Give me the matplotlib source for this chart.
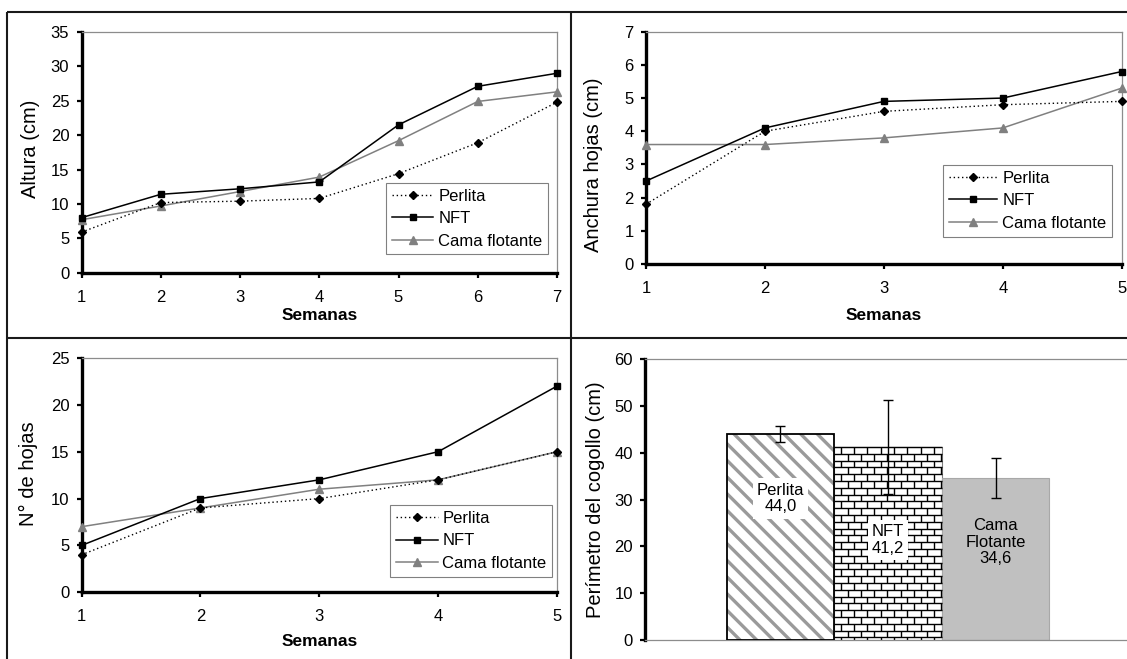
import numpy as np
import matplotlib
matplotlib.use('Agg')
import matplotlib.pyplot as plt
from matplotlib.lines import Line2D
from matplotlib.collections import LineCollection

plt.rcParams['font.family'] = ['Liberation Sans', 'DejaVu Sans']
plt.rcParams['hatch.linewidth'] = 2.4

# ---------------- data ----------------
semanas_altura = [1, 2, 3, 4, 5, 6, 7]
altura_perlita = [5.9, 10.2, 10.4, 10.8, 14.4, 18.9, 24.8]
altura_nft = [8.0, 11.4, 12.2, 13.2, 21.5, 27.1, 29.0]
altura_cama = [7.7, 9.7, 11.8, 13.9, 19.2, 24.9, 26.3]

semanas = [1, 2, 3, 4, 5]
anchura_perlita = [1.8, 4.0, 4.6, 4.8, 4.9]
anchura_nft = [2.5, 4.1, 4.9, 5.0, 5.8]
anchura_cama = [3.6, 3.6, 3.8, 4.1, 5.3]

hojas_perlita = [4, 9, 10, 12, 15]
hojas_nft = [5, 10, 12, 15, 22]
hojas_cama = [7, 9, 11, 12, 15]

sistemas = ['Perlita', 'NFT', 'Cama\nFlotante']
perimetro = [44.0, 41.2, 34.6]
perimetro_err = [1.8, 10.1, 4.3]

series_names = ['Perlita', 'NFT', 'Cama flotante']

# ---------------- layout ----------------
W, H = 1127, 659
fig = plt.figure(figsize=(W / 100, H / 100), dpi=100)


def rect(l, r, t, b):
    return [l / W, 1 - b / H, (r - l) / W, (b - t) / H]


def fx(px):
    return px / W


def fy(py):
    return 1 - py / H


ax1 = fig.add_axes(rect(81.5, 557, 32, 272.7))
ax2 = fig.add_axes(rect(646, 1121.7, 31.7, 264))
ax3 = fig.add_axes(rect(81.5, 557, 358, 592.3))
ax4 = fig.add_axes(rect(645, 1131, 359, 640))

GRAY_SPINE = '#8c8c8c'


def style_axes(ax):
    for s in ['top', 'right']:
        ax.spines[s].set_color(GRAY_SPINE)
        ax.spines[s].set_linewidth(0.9)
    for s in ['left', 'bottom']:
        ax.spines[s].set_color('black')
        ax.spines[s].set_linewidth(2.4)
    ax.tick_params(axis='both', direction='out', length=3.8, width=1.6,
                   labelsize=12, color='black')
    ax.tick_params(axis='y', pad=5)
    ax.tick_params(axis='x', pad=8.5)


def plot_lines(ax, x, p, n, c):
    ax.plot(x, c, '-', color='#808080', lw=1.1, marker='^', ms=6,
            clip_on=False, label=series_names[2], zorder=3)
    ax.plot(x, p, linestyle=(0, (1, 2)), color='black', lw=1.0, marker='D',
            ms=4.5, clip_on=False, label=series_names[0], zorder=4)
    ax.plot(x, n, '-', color='black', lw=1.1, marker='s', ms=5,
            clip_on=False, label=series_names[1], zorder=5)


def add_legend(ax, x, y, borderpad=0.35, handlelength=2.5):
    h, l = ax.get_legend_handles_labels()
    order = [l.index(s) for s in series_names]
    leg = ax.legend([h[i] for i in order], [l[i] for i in order],
                    loc='upper left', bbox_to_anchor=(fx(x), fy(y)),
                    bbox_transform=fig.transFigure, borderaxespad=0,
                    fontsize=12, frameon=True, fancybox=False,
                    edgecolor='#808080', framealpha=1,
                    handlelength=handlelength, handletextpad=0.3,
                    borderpad=borderpad, labelspacing=0.45)
    leg.get_frame().set_linewidth(0.8)
    return leg


def set_labels(ax, ylabel, ycx, ycy, xcx=None, xcy=None):
    ax.set_ylabel(ylabel, fontsize=14.5, va='center')
    ax.yaxis.set_label_coords(fx(ycx), fy(ycy), transform=fig.transFigure)
    if xcx is not None:
        ax.set_xlabel('Semanas', fontsize=12.5, fontweight='bold', va='center')
        ax.xaxis.set_label_coords(fx(xcx), fy(xcy), transform=fig.transFigure)


# Panel 1: Altura
plot_lines(ax1, semanas_altura, altura_perlita, altura_nft, altura_cama)
ax1.set_xlim(1, 7)
ax1.set_ylim(0, 35)
ax1.set_xticks(semanas_altura)
ax1.set_yticks(np.arange(0, 36, 5))
style_axes(ax1)
set_labels(ax1, 'Altura (cm)', 31, 149, 319.5, 315)
add_legend(ax1, 386, 182.7)

# Panel 2: Anchura hojas
plot_lines(ax2, semanas, anchura_perlita, anchura_nft, anchura_cama)
ax2.set_xlim(1, 5)
ax2.set_ylim(0, 7)
ax2.set_xticks(semanas)
ax2.set_yticks(np.arange(0, 8, 1))
style_axes(ax2)
set_labels(ax2, 'Anchura hojas (cm)', 594, 164.7, 884, 315)
add_legend(ax2, 943, 165, handlelength=2.9)

# Panel 3: Nº de hojas
plot_lines(ax3, semanas, hojas_perlita, hojas_nft, hojas_cama)
ax3.set_xlim(1, 5)
ax3.set_ylim(0, 25)
ax3.set_xticks(semanas)
ax3.set_yticks(np.arange(0, 26, 5))
style_axes(ax3)
set_labels(ax3, 'N° de hojas', 28, 474, 320, 641.7)
add_legend(ax3, 390, 505)

# Panel 4: Perímetro del cogollo (bars)
xpos = np.arange(len(perimetro))
bars = ax4.bar(xpos, perimetro, width=1.0, zorder=2)
ax4.set_xlim(-1.26, 3.26)
ax4.set_ylim(0, 60)
ax4.set_yticks(np.arange(0, 61, 10))
ax4.set_xticks([])
style_axes(ax4)
ax4.spines['bottom'].set_color(GRAY_SPINE)
ax4.spines['bottom'].set_linewidth(0.9)
ax4.spines['right'].set_visible(False)

# Perlita: gray diagonal stripes with black outline
bars[0].set_facecolor('white')
bars[0].set_edgecolor('#9a9a9a')
bars[0].set_hatch('\\\\')
bars[0].set_linewidth(0)
ax4.bar(xpos[0], perimetro[0], width=1.0, fill=False, edgecolor='black',
        linewidth=1.3, zorder=3)

# NFT: brick pattern
bars[1].set_facecolor('white')
bars[1].set_edgecolor('#808080')
bars[1].set_linewidth(0.8)

# Cama flotante: solid gray
bars[2].set_facecolor('#c0c0c0')
bars[2].set_edgecolor('#a8a8a8')
bars[2].set_linewidth(0.8)


def brick_fill(ax, patch, row_px=6.8, brick_px=13.3):
    (x0, y0), (x1, y1) = ax.transData.transform(
        [(patch.get_x(), patch.get_y()),
         (patch.get_x() + patch.get_width(), patch.get_y() + patch.get_height())])
    segs = []
    ytop = y1
    i = 0
    while ytop > y0:
        ybot = ytop - row_px
        segs.append([(x0, ytop), (x1, ytop)])
        off = (i % 2) * brick_px / 2
        xx = x0 + off + brick_px / 2
        while xx < x1:
            segs.append([(xx, ybot), (xx, ytop)])
            xx += brick_px
        ytop = ybot
        i += 1
    inv = ax.transData.inverted()
    segs_d = [inv.transform(np.array(s)) for s in segs]
    lc = LineCollection(segs_d, colors='black', linewidths=1.0, zorder=2.5)
    lc.set_clip_path(patch)
    ax.add_collection(lc)


brick_fill(ax4, bars[1])

ax4.errorbar(xpos, perimetro, yerr=perimetro_err, fmt='none', ecolor='black',
             elinewidth=1.0, capsize=3.5, capthick=1.0, zorder=6)

label_y = [30.2, 21.3, 20.9]
for i, (name, v) in enumerate(zip(sistemas, perimetro)):
    txt = name + '\n' + format(v, '.1f').replace('.', ',')
    kw = {}
    if i < 2:
        kw['bbox'] = dict(facecolor='white', edgecolor='none', pad=3)
    ax4.text(xpos[i], label_y[i], txt, ha='center', va='center', fontsize=12,
             linespacing=1.15, zorder=7, **kw)

ax4.set_ylabel('Perímetro del cogollo (cm)', fontsize=14.5, va='center')
ax4.yaxis.set_label_coords(fx(595.5), fy(499.2), transform=fig.transFigure)

# ---------------- panel borders ----------------
border_kw = dict(color='#1a1a1a', lw=1.5, transform=fig.transFigure, solid_capstyle='butt')
fig.add_artist(Line2D([fx(7), fx(W)], [fy(11.5), fy(11.5)], **border_kw))
fig.add_artist(Line2D([fx(7), fx(7)], [fy(11.5), fy(H)], **border_kw))
fig.add_artist(Line2D([fx(571), fx(571)], [fy(11.5), fy(H)], **border_kw))
fig.add_artist(Line2D([fx(7), fx(W)], [fy(338), fy(338)], **border_kw))

fig.savefig('out.png', dpi=100)
